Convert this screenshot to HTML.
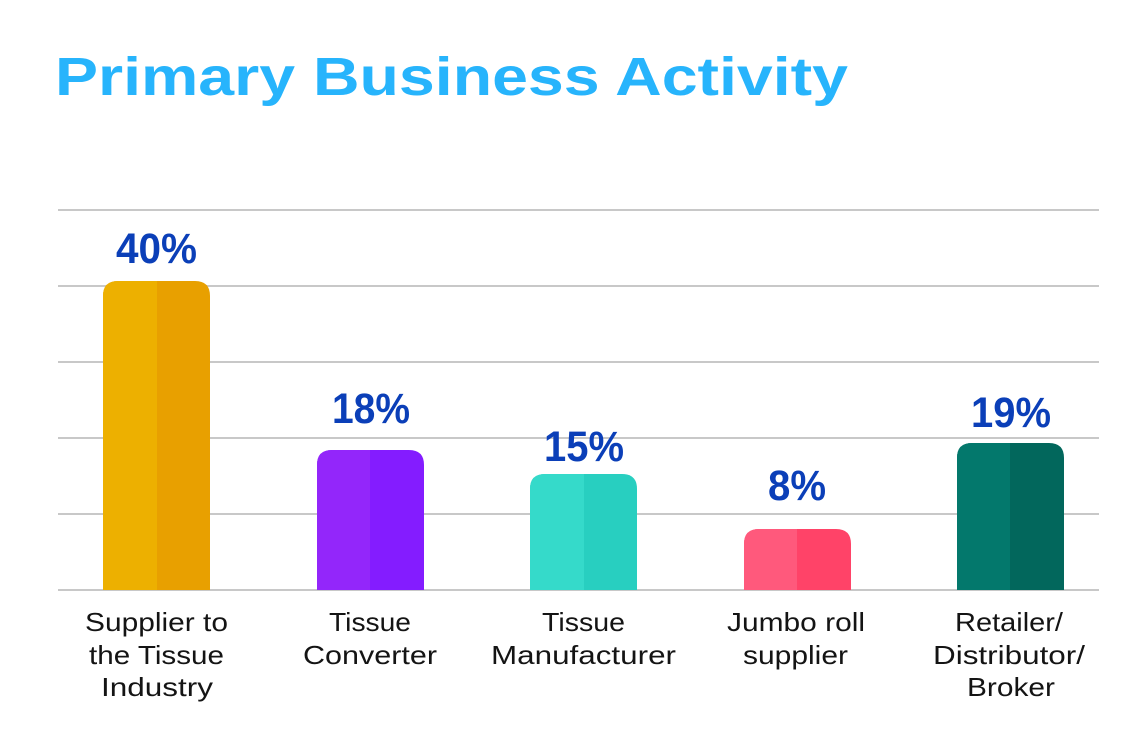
<!DOCTYPE html>
<html>
<head>
<meta charset="utf-8">
<style>
  html, body { margin:0; padding:0; background:#fff; }
  body { width:1142px; height:737px; overflow:hidden; }
  svg { display:block; }
  .t { font-family:"Liberation Sans", sans-serif; }
</style>
</head>
<body>
<svg width="1142" height="737" viewBox="0 0 1142 737" xmlns="http://www.w3.org/2000/svg">
  <rect width="1142" height="737" fill="#fff"/>
  <text class="t" x="55" y="95" font-size="54" font-weight="bold" fill="#27B4FC" textLength="793" lengthAdjust="spacingAndGlyphs">Primary Business Activity</text>

  <g stroke="#c8c8c8" stroke-width="2">
    <line x1="58" y1="210" x2="1099" y2="210"/>
    <line x1="58" y1="286" x2="1099" y2="286"/>
    <line x1="58" y1="362" x2="1099" y2="362"/>
    <line x1="58" y1="438" x2="1099" y2="438"/>
    <line x1="58" y1="514" x2="1099" y2="514"/>
    <line x1="58" y1="590" x2="1099" y2="590"/>
  </g>

  <!-- Bar 1 -->
  <path d="M103,590 V296 Q103,281 118,281 H195 Q210,281 210,296 V590 Z" fill="#E8A000"/>
  <path d="M103,590 V296 Q103,281 118,281 H157 V590 Z" fill="#EDB000"/>
  <!-- Bar 2 -->
  <path d="M317,590 V465 Q317,450 332,450 H409 Q424,450 424,465 V590 Z" fill="#841CFF"/>
  <path d="M317,590 V465 Q317,450 332,450 H370 V590 Z" fill="#9326FA"/>
  <!-- Bar 3 -->
  <path d="M530,590 V489 Q530,474 545,474 H622 Q637,474 637,489 V590 Z" fill="#28CFC0"/>
  <path d="M530,590 V489 Q530,474 545,474 H584 V590 Z" fill="#35DACA"/>
  <!-- Bar 4 -->
  <path d="M744,590 V544 Q744,529 759,529 H836 Q851,529 851,544 V590 Z" fill="#FF4368"/>
  <path d="M744,590 V544 Q744,529 759,529 H797 V590 Z" fill="#FF597C"/>
  <!-- Bar 5 -->
  <path d="M957,590 V458 Q957,443 972,443 H1049 Q1064,443 1064,458 V590 Z" fill="#02675C"/>
  <path d="M957,590 V458 Q957,443 972,443 H1010 V590 Z" fill="#03786C"/>

  <!-- value labels -->
  <g class="t" font-size="43" font-weight="bold" fill="#0B3FB8">
    <text x="116" y="263" textLength="81" lengthAdjust="spacingAndGlyphs">40%</text>
    <text x="332" y="423" textLength="78" lengthAdjust="spacingAndGlyphs">18%</text>
    <text x="544" y="461" textLength="80" lengthAdjust="spacingAndGlyphs">15%</text>
    <text x="768" y="500" textLength="58" lengthAdjust="spacingAndGlyphs">8%</text>
    <text x="971" y="427" textLength="80" lengthAdjust="spacingAndGlyphs">19%</text>
  </g>

  <!-- category labels -->
  <g class="t" font-size="26" fill="#141414">
    <text x="85" y="631" textLength="143" lengthAdjust="spacingAndGlyphs">Supplier to</text>
    <text x="89" y="664" textLength="135" lengthAdjust="spacingAndGlyphs">the Tissue</text>
    <text x="101" y="696" textLength="112" lengthAdjust="spacingAndGlyphs">Industry</text>

    <text x="329" y="631" textLength="82" lengthAdjust="spacingAndGlyphs">Tissue</text>
    <text x="303" y="664" textLength="134" lengthAdjust="spacingAndGlyphs">Converter</text>

    <text x="542" y="631" textLength="83" lengthAdjust="spacingAndGlyphs">Tissue</text>
    <text x="491" y="664" textLength="185" lengthAdjust="spacingAndGlyphs">Manufacturer</text>

    <text x="727" y="631" textLength="138" lengthAdjust="spacingAndGlyphs">Jumbo roll</text>
    <text x="743" y="664" textLength="105" lengthAdjust="spacingAndGlyphs">supplier</text>

    <text x="955" y="631" textLength="108" lengthAdjust="spacingAndGlyphs">Retailer/</text>
    <text x="933" y="664" textLength="152" lengthAdjust="spacingAndGlyphs">Distributor/</text>
    <text x="967" y="696" textLength="88" lengthAdjust="spacingAndGlyphs">Broker</text>
  </g>
</svg>
</body>
</html>
